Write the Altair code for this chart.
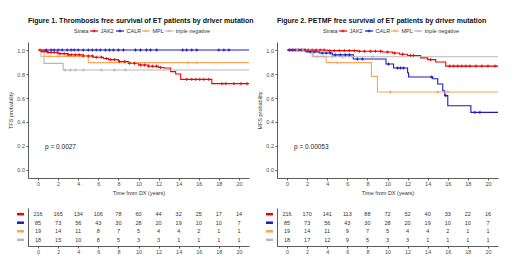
import altair as alt
import pandas as pd

strata = ["JAK2", "CALR", "MPL", "triple negative"]
colors = ["#f00000", "#1a1ac8", "#f5a85a", "#b8b8b8"]

# ---------- Figure 1: TFS ----------
tfs_jak2_t = [0, 0.3, 1.0, 2.0, 3.0, 4.5, 5.5, 6.5, 7.0, 8.0, 9.0, 10.0, 11.0, 12.0, 12.5, 13.2, 13.7, 14.2, 17.3, 21]
tfs_jak2_s = [1.0, 0.99, 0.98, 0.97, 0.96, 0.95, 0.94, 0.93, 0.92, 0.905, 0.89, 0.875, 0.865, 0.855, 0.85, 0.82, 0.80, 0.755, 0.72, 0.72]
tfs_jak2_c = [0.2, 0.4, 0.6, 0.8, 1.0, 1.3, 1.6, 1.9, 2.2, 2.6, 3.0, 3.3, 3.7, 4.1, 4.5, 5.0, 5.4, 5.8, 6.3, 6.8,
              7.2, 7.6, 8.1, 8.6, 9.1, 9.6, 10.2, 10.6, 11.0, 11.4, 11.8, 12.2, 14.8, 15.3, 15.7, 16.1, 16.5, 17.0,
              18.3, 18.7, 19.5, 20.2, 20.8]
tfs_calr_t = [0, 21]
tfs_calr_s = [1.0, 1.0]
tfs_calr_c = [0.8, 1.3, 1.6, 2.0, 2.4, 2.9, 3.3, 3.6, 4.0, 4.5, 5.0, 5.4, 5.8, 6.2, 6.7, 7.1, 7.5, 8.0, 8.5,
              9.7, 10.2, 10.8, 11.2, 11.8, 14.4, 14.8, 15.3, 15.8, 18.0, 18.5, 19.0]
tfs_mpl_t = [0, 0.6, 5.0, 21]
tfs_mpl_s = [1.0, 0.947, 0.895, 0.895]
tfs_mpl_c = [1.2, 2.0, 3.5, 14.9, 15.8]
tfs_tn_t = [0, 0.3, 0.6, 2.5, 21]
tfs_tn_s = [1.0, 0.944, 0.889, 0.833, 0.833]
tfs_tn_c = [2.7, 3.2, 3.7, 4.5, 6.3, 7.6, 8.7]

# ---------- Figure 2: MFS ----------
mfs_jak2_t = [0, 4.0, 7.0, 9.5, 10.5, 11.2, 12.0, 13.3, 14.0, 14.8, 15.8, 21]
mfs_jak2_s = [1.0, 0.995, 0.99, 0.983, 0.975, 0.965, 0.955, 0.935, 0.92, 0.9, 0.866, 0.866]
mfs_jak2_c = [0.3, 0.6, 0.9, 1.2, 1.5, 1.8, 2.1, 2.5, 2.9, 3.3, 3.7, 4.2, 4.7, 5.2, 5.7, 6.2, 6.7, 7.2, 7.7,
              8.3, 8.8, 9.3, 10.0, 10.7, 11.5, 12.3, 12.6, 14.3, 16.2, 16.6, 17.0, 17.4, 17.8, 18.2, 18.8,
              19.4, 20.0, 20.7]
mfs_calr_t = [0, 1.9, 3.2, 4.5, 6.6, 9.85, 10.6, 12.0, 12.1, 14.5, 15.0, 15.5, 15.7, 16.0, 18.3, 21]
mfs_calr_s = [1.0, 0.985, 0.975, 0.96, 0.925, 0.883, 0.85, 0.81, 0.775, 0.76, 0.717, 0.66, 0.62, 0.535, 0.48, 0.48]
mfs_calr_c = [0.2, 0.5, 0.8, 1.1, 1.4, 1.7, 2.3, 2.7, 3.5, 3.9, 4.3, 4.8, 5.3, 5.8, 6.2, 7.0, 7.5, 10.1,
              11.0, 11.3, 11.6, 14.4, 15.8, 18.7, 19.2]
mfs_mpl_t = [0, 2.6, 3.9, 8.4, 9.0, 21]
mfs_mpl_s = [1.0, 0.947, 0.895, 0.78, 0.65, 0.65]
mfs_mpl_c = [1.0, 1.6, 5.0, 10.3, 15.0, 16.0]
mfs_tn_t = [0, 2.5, 21]
mfs_tn_s = [1.0, 0.944, 0.944]
mfs_tn_c = [3.0, 3.6, 4.5, 5.5, 6.5, 8.5]

# ---------- Risk tables ----------
table_times = [0, 2, 4, 6, 8, 10, 12, 14, 16, 18, 20]
risk1_jak2 = [216, 165, 134, 106, 78, 60, 44, 32, 25, 17, 14]
risk1_calr = [85, 73, 56, 43, 30, 28, 20, 19, 10, 10, 7]
risk1_mpl = [19, 14, 11, 8, 7, 5, 4, 4, 2, 1, 1]
risk1_tn = [18, 15, 10, 8, 5, 3, 3, 1, 1, 1, 1]
risk2_jak2 = [216, 170, 141, 113, 88, 72, 52, 40, 33, 22, 16]
risk2_calr = [85, 73, 56, 43, 30, 28, 20, 19, 10, 10, 7]
risk2_mpl = [19, 14, 11, 9, 7, 5, 4, 4, 2, 1, 1]
risk2_tn = [18, 17, 12, 9, 5, 3, 3, 1, 1, 1, 1]

title1 = "Figure 1. Thrombosis free survival of ET patients by driver mutation"
title2 = "Figure 2. PETMF free survival of ET patients by driver mutation"
legend_title = "Strata"
p1 = "p = 0.0027"
p2 = "p = 0.00053"

FONT = "Liberation Sans"
XDOM = [-1, 21]
YVALS = [0, 0.2, 0.4, 0.6, 0.8, 1.0]
CROSS = "M-1,0L1,0M0,-1L0,1"


def step_df(groups):
    rows = []
    for name, times, surv in groups:
        for t, s in zip(times, surv):
            rows.append({"strata": name, "time": t, "surv": s})
    return pd.DataFrame(rows)


def censor_df(groups):
    rows = []
    for name, times, surv, cens in groups:
        for c in cens:
            v = surv[0]
            for t, s in zip(times, surv):
                if t <= c:
                    v = s
            rows.append({"strata": name, "time": c, "surv": v})
    return pd.DataFrame(rows)


def color_enc():
    return alt.Color("strata:N", scale=alt.Scale(domain=strata, range=colors), sort=strata, legend=None)


def legend_layers():
    # horizontal key laid out in pixels above the plot, like ggplot's top legend
    start = 46
    title_w = 16
    x = start + title_w
    rows = []
    for s in strata:
        lw = len(s) * 2.75 + 0.5
        rows.append({"strata": s, "sx": x, "sx2": x + 8, "sc": x + 4, "lx": x + 10.5})
        x = x + 10.5 + lw + 4
    df = pd.DataFrame(rows)
    ly = -11
    title = alt.Chart(pd.DataFrame({"t": [legend_title]})).mark_text(
        align="left", baseline="middle", fontSize=5.5, font=FONT, color="#333").encode(
        x=alt.value(start), y=alt.value(ly), text="t:N")
    sym = alt.Chart(df).mark_rule(strokeWidth=1.2).encode(
        x=alt.X("sx:Q", scale=None), x2="sx2:Q", y=alt.value(ly), color=color_enc())
    crs = alt.Chart(df).mark_point(shape=CROSS, size=8, strokeWidth=0.9, filled=False, opacity=1).encode(
        x=alt.X("sc:Q", scale=None), y=alt.value(ly), color=color_enc())
    lab = alt.Chart(df).mark_text(align="left", baseline="middle", fontSize=5.5, font=FONT,
                                  color="#333").encode(
        x=alt.X("lx:Q", scale=None), y=alt.value(ly), text="strata:N")
    return [title, sym, crs, lab]


def km_chart(groups, title, ytitle, ptext):
    lines = step_df([(g[0], g[1], g[2]) for g in groups])
    cens = censor_df(groups)
    x = alt.X("time:Q", scale=alt.Scale(domain=XDOM, nice=False, zero=False),
              axis=alt.Axis(values=table_times, title="Time from DX (years)", grid=False,
                            labelOverlap=False, labelFlush=False))
    y = alt.Y("surv:Q", scale=alt.Scale(domain=[-0.067, 1.067], nice=False, zero=False),
              axis=alt.Axis(values=YVALS, format=".1f", title=ytitle, grid=False,
                            labelOverlap=False, labelFlush=False))
    line = alt.Chart(lines).mark_line(interpolate="step-after", strokeWidth=1.1).encode(
        x=x, y=y, color=color_enc())
    pts = alt.Chart(cens).mark_point(shape=CROSS, size=10, strokeWidth=0.9,
                                     filled=False, opacity=1).encode(
        x=x, y=y, color=color_enc())
    ptxt = alt.Chart(pd.DataFrame({"time": [0.7], "surv": [0.19], "label": [ptext]})).mark_text(
        align="left", baseline="middle", fontSize=6.5, font=FONT, color="#222").encode(
        x=x, y=y, text="label:N")
    return alt.layer(line, pts, ptxt, *legend_layers()).properties(
        width=221, height=136,
        title=alt.TitleParams(title, anchor="start", frame="group", fontSize=7, fontWeight="bold",
                              font=FONT, color="#111", offset=4))


def table_chart(counts):
    rows = []
    for s, vals in zip(strata, counts):
        for t, n in zip(table_times, vals):
            rows.append({"strata": s, "time": t, "n": n})
    df = pd.DataFrame(rows)
    yenc = alt.Y("strata:N", sort=strata, scale=alt.Scale(type="point", padding=0.72),
                 axis=alt.Axis(labels=False, ticks=False, title=None, grid=False))
    txt = alt.Chart(df).mark_text(fontSize=5.5, font=FONT, color="#333", baseline="middle").encode(
        x=alt.X("time:Q", scale=alt.Scale(domain=XDOM, nice=False, zero=False),
                axis=alt.Axis(values=table_times, title=None, grid=False,
                              labelOverlap=False, labelFlush=False)),
        y=yenc, text="n:Q")
    sw = alt.Chart(pd.DataFrame({"strata": strata})).mark_rule(strokeWidth=2.5).encode(
        x=alt.value(-11), x2=alt.value(-4), y=yenc, color=color_enc())
    return alt.layer(txt, sw).properties(width=221, height=38)


g1 = [("JAK2", tfs_jak2_t, tfs_jak2_s, tfs_jak2_c),
      ("CALR", tfs_calr_t, tfs_calr_s, tfs_calr_c),
      ("MPL", tfs_mpl_t, tfs_mpl_s, tfs_mpl_c),
      ("triple negative", tfs_tn_t, tfs_tn_s, tfs_tn_c)]
g2 = [("JAK2", mfs_jak2_t, mfs_jak2_s, mfs_jak2_c),
      ("CALR", mfs_calr_t, mfs_calr_s, mfs_calr_c),
      ("MPL", mfs_mpl_t, mfs_mpl_s, mfs_mpl_c),
      ("triple negative", mfs_tn_t, mfs_tn_s, mfs_tn_c)]

km1 = km_chart(g1, title1, "TFS probability", p1)
km2 = km_chart(g2, title2, "MFS probability", p2)
tab1 = table_chart([risk1_jak2, risk1_calr, risk1_mpl, risk1_tn])
tab2 = table_chart([risk2_jak2, risk2_calr, risk2_mpl, risk2_tn])

left = alt.vconcat(km1, tab1, spacing=12)
right = alt.vconcat(km2, tab2, spacing=12)

chart = alt.hconcat(left, right, spacing=3).properties(
    padding={"left": 0, "top": 8, "right": 0, "bottom": 0}, background="white"
).configure_view(stroke=None).configure_axis(
    domainColor="#333", tickColor="#333", labelColor="#4d4d4d", titleColor="#333",
    labelFontSize=5.5, titleFontSize=5.5, titleFontWeight="normal", tickSize=2,
    labelPadding=1.5, titlePadding=3, labelFont=FONT, titleFont=FONT, domainWidth=0.8, tickWidth=0.8,
    labelOverlap=False, labelFlush=False
)

chart.save("out.html", embed_options={"renderer": "svg", "actions": False})
